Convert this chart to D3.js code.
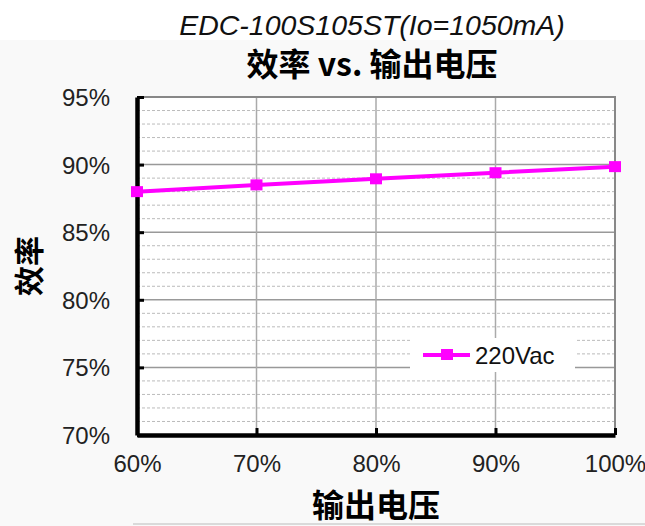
<!DOCTYPE html>
<html><head><meta charset="utf-8">
<script src="https://cdn.jsdelivr.net/npm/d3@7/dist/d3.min.js"></script>
<style>body{margin:0;background:#fff}svg{display:block}</style>
</head><body><svg id="c" width="645" height="526"></svg>
<script>
const subtitle = "EDC-100S105ST(Io=1050mA)";
const title = "效率 vs. 输出电压";
const xTitle = "输出电压";
const yTitle = "效率";
const xValues = [60, 70, 80, 90, 100];
const effValues = [88.0, 88.5, 88.95, 89.4, 89.85];
const seriesName = "220Vac";
const xTicks = [60, 70, 80, 90, 100];
const yTicks = [70, 75, 80, 85, 90, 95];
const yMinor = [71,72,73,74,76,77,78,79,81,82,83,84,86,87,88,89,91,92,93,94];

const svg = d3.select("#c");
const font = "'Liberation Sans', Arial, sans-serif";
const cjk = "'Noto Sans CJK SC', sans-serif";
const L = 137, R = 615, T = 97, B = 435;
const x = d3.scaleLinear().domain([60, 100]).range([L, R]);
const y = d3.scaleLinear().domain([70, 95]).range([B, T]);

svg.append("rect").attr("x", 0).attr("y", 40).attr("width", 645).attr("height", 486).attr("fill", "#f9f9f9");
svg.append("line").attr("x1", 133).attr("x2", 645).attr("y1", 524).attr("y2", 524).attr("stroke", "#bbb");

svg.append("text").attr("x", 372).attr("y", 35).attr("text-anchor", "middle")
  .attr("font-family", font).attr("font-style", "italic").attr("font-size", 28.5).attr("fill", "#111").text(subtitle);
svg.append("text").attr("x", 372).attr("y", 76).attr("text-anchor", "middle")
  .attr("font-family", cjk).attr("font-weight", "bold").attr("font-size", 32).attr("fill", "#000").text(title);

const g = svg.append("g");
g.append("rect").attr("x", L).attr("y", T).attr("width", R - L).attr("height", B - T).attr("fill", "#fff");
g.selectAll(".minor").data(yMinor).join("line")
  .attr("x1", L).attr("x2", R).attr("y1", d => y(d)).attr("y2", d => y(d))
  .attr("stroke", "#bbb").attr("stroke-width", 1).attr("stroke-dasharray", "3,2");
g.selectAll(".ymaj").data(yTicks.slice(1, -1)).join("line")
  .attr("x1", L).attr("x2", R).attr("y1", d => y(d)).attr("y2", d => y(d))
  .attr("stroke", "#999").attr("stroke-width", 1.5);
g.selectAll(".xmaj").data(xTicks.slice(1, -1)).join("line")
  .attr("y1", T).attr("y2", B).attr("x1", d => x(d)).attr("x2", d => x(d))
  .attr("stroke", "#aaa").attr("stroke-width", 1.5);
g.append("path").attr("d", `M${L},${T}H${R}V${B}`).attr("fill", "none").attr("stroke", "#888").attr("stroke-width", 2);

const lg = svg.append("g");
lg.append("rect").attr("x", 410).attr("y", 338).attr("width", 165).attr("height", 34).attr("fill", "#fff");
lg.append("line").attr("x1", 423).attr("x2", 470).attr("y1", 355).attr("y2", 355).attr("stroke", "#ff00ff").attr("stroke-width", 4);
lg.append("rect").attr("x", 441).attr("y", 349).attr("width", 12).attr("height", 11).attr("fill", "#ff00ff");
lg.append("text").attr("x", 475).attr("y", 364).attr("font-family", font).attr("font-size", 24).attr("fill", "#111").text(seriesName);

const xAxis = d3.axisBottom(x).tickValues(xTicks).tickFormat(d => d + "%").tickSizeInner(-7).tickSizeOuter(0).tickPadding(20);
const ya = d3.axisLeft(y).tickValues(yTicks).tickFormat(d => d + "%").tickSizeInner(-7).tickSizeOuter(0).tickPadding(27);
const gx = svg.append("g").attr("transform", `translate(0,${B})`).call(xAxis);
const gy = svg.append("g").attr("transform", `translate(${L},0)`).call(ya);
[gx, gy].forEach(a => {
  a.select(".domain").attr("stroke", "#000").attr("stroke-width", 4.5);
  a.selectAll(".tick line").attr("stroke", "#000").attr("stroke-width", 3);
  a.selectAll(".tick text").attr("font-family", font).attr("font-size", 24).attr("fill", "#222");
});
gx.selectAll(".tick text").attr("dy", "0.71em");
gy.selectAll(".tick text").attr("dy", "0.35em");

const line = d3.line().x((d, i) => x(xValues[i])).y(d => y(d));
svg.append("path").datum(effValues).attr("d", line).attr("fill", "none").attr("stroke", "#ff00ff").attr("stroke-width", 4);
svg.selectAll(".pt").data(effValues).join("rect")
  .attr("x", (d, i) => x(xValues[i]) - 6).attr("y", d => y(d) - 5.5).attr("width", 12).attr("height", 11).attr("fill", "#ff00ff");

svg.append("text").attr("x", 376).attr("y", 517).attr("text-anchor", "middle")
  .attr("font-family", cjk).attr("font-weight", "bold").attr("font-size", 32).attr("fill", "#000").text(xTitle);
svg.append("text").attr("transform", "translate(40,266) rotate(-90)").attr("text-anchor", "middle")
  .attr("font-family", cjk).attr("font-weight", "bold").attr("font-size", 30).attr("fill", "#000").text(yTitle);
</script></body></html>
